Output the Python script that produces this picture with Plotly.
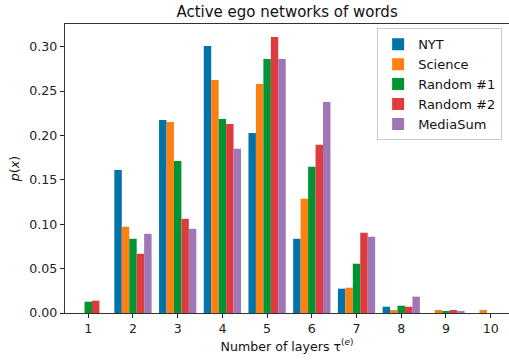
import plotly.graph_objects as go

# Number of layers in each active ego network
layers = [1, 2, 3, 4, 5, 6, 7, 8, 9, 10]

# Probability of each layer count, per dataset
nyt = [0.0, 0.161, 0.2175, 0.3007, 0.2028, 0.0836, 0.0274, 0.0071, 0.0, 0.0]
science = [0.0, 0.0971, 0.2152, 0.2625, 0.2580, 0.1286, 0.0285, 0.0034, 0.0034, 0.0034]
random1 = [0.0127, 0.0836, 0.1713, 0.2186, 0.2861, 0.1646, 0.0555, 0.0082, 0.0015, 0.0]
random2 = [0.0139, 0.0667, 0.1061, 0.2130, 0.3108, 0.1894, 0.0904, 0.0071, 0.0034, 0.0]
mediasum = [0.0, 0.0892, 0.0948, 0.1849, 0.2861, 0.2377, 0.0859, 0.0184, 0.0015, 0.0]

series = [
    ("NYT", nyt, "#0173a8"),
    ("Science", science, "#fe8013"),
    ("Random #1", random1, "#019432"),
    ("Random #2", random2, "#de3b3f"),
    ("MediaSum", mediasum, "#a076b6"),
]

FONT = "DejaVu Sans"

fig = go.Figure()
for name, vals, color in series:
    fig.add_trace(go.Bar(
        x=layers, y=vals, name=name,
        marker=dict(color=color, line=dict(width=0)),
    ))

fig.update_layout(
    width=509, height=363,
    margin=dict(l=65, r=0, t=24, b=50),
    paper_bgcolor="white", plot_bgcolor="white",
    barmode="group", bargap=1 / 6, bargroupgap=0,
    font=dict(family=FONT, size=12.6, color="#222"),
    title=dict(text="Active ego networks of words", x=0.564, xanchor="center",
               y=0.969, yanchor="middle", font=dict(size=15, color="#111")),
    legend=dict(x=0.703, xanchor="left", y=0.985, yanchor="top",
                bordercolor="#cccccc", borderwidth=1, bgcolor="white",
                font=dict(size=13, color="#111"), itemwidth=30,
                tracegroupgap=0),
    showlegend=True,
)

fig.update_xaxes(
    range=[0.48, 10.41], tickmode="array", tickvals=layers,
    ticks="outside", ticklen=4, tickcolor="#222", tickwidth=1,
    showline=True, linecolor="#333", linewidth=1.2, mirror=True,
    showgrid=False, zeroline=False,
    title=dict(text="Number of layers τ<sup>(<i>e</i>)</sup>", standoff=6,
               font=dict(size=12.6, color="#111")),
)
fig.update_yaxes(
    range=[0, 0.3255], tickmode="array",
    tickvals=[0, 0.05, 0.10, 0.15, 0.20, 0.25, 0.30], tickformat=".2f",
    ticks="outside", ticklen=4, tickcolor="#222", tickwidth=1,
    showline=True, linecolor="#333", linewidth=1.2, mirror=False,
    showgrid=False, zeroline=False,
    title=dict(text="<i>p</i>(<i>x</i>)", standoff=6,
               font=dict(size=12.6, color="#111")),
)

fig.write_html("out.html")
